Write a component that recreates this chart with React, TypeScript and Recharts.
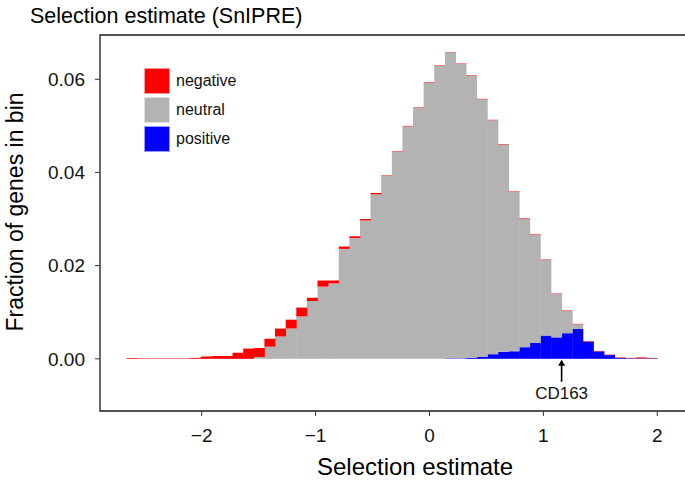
import React from 'react';
import {
  ComposedChart,
  Bar,
  XAxis,
  YAxis,
  Label,
  ReferenceArea,
  ReferenceDot,
} from 'recharts';

// histogram bins (mid points, width ~0.093)
const BIN_MIDS = [
  -2.614, -2.521, -2.428, -2.335, -2.242, -2.148, -2.055, -1.962, -1.869, -1.776,
  -1.683, -1.589, -1.496, -1.403, -1.31, -1.216, -1.123, -1.03, -0.937, -0.844,
  -0.75, -0.657, -0.564, -0.471, -0.378, -0.284, -0.191, -0.098, -0.005, 0.088,
  0.182, 0.275, 0.368, 0.461, 0.554, 0.648, 0.741, 0.834, 0.927, 1.02,
  1.114, 1.207, 1.3, 1.393, 1.486, 1.579, 1.673, 1.766, 1.859, 1.952,
];

const NEGATIVE = [
  0.0002, 0.0001, 0.0001, 0.0001, 0.0001, 0.0001, 0.0002, 0.0005, 0.0006, 0.0006,
  0.0013, 0.0022, 0.0019, 0.0017, 0.0017, 0.0019, 0.0019, 0.0007, 0.0013, 0.0006,
  0.0005, 0.0004, 0.0003, 0.0003, 0.0001, 0.0001, 0.0001, 0.0001, 0.0001, 0.0001,
  0.0001, 0.0001, 0.0001, 0.0001, 0.0001, 0.0001, 0.0001, 0.0001, 0.0001, 0.0001,
  0.0001, 0.0001, 0.0001, 0.0001, 0.0001, 0.0001, 0.0001, 0.0001, 0.0002, 0.0001,
];

const NEUTRAL = [
  0, 0, 0, 0, 0, 0, 0, 0, 0, 0,
  0, 0, 0.0004, 0.0026, 0.0048, 0.0065, 0.0091, 0.0124, 0.0155, 0.0162,
  0.0236, 0.0259, 0.0297, 0.0353, 0.0393, 0.0445, 0.0499, 0.0539, 0.0593, 0.0629,
  0.0656, 0.0632, 0.0606, 0.0553, 0.0502, 0.0445, 0.0342, 0.0276, 0.0233, 0.0162,
  0.0093, 0.0048, 0.001, 0, 0, 0, 0, 0, 0, 0,
];

const POSITIVE = [
  0, 0, 0, 0, 0, 0, 0, 0, 0, 0,
  0, 0, 0, 0, 0, 0, 0, 0, 0, 0,
  0, 0, 0, 0, 0, 0, 0, 0, 0, 0,
  0.0001, 0.0001, 0.0002, 0.0004, 0.001, 0.0015, 0.0016, 0.0025, 0.0034, 0.005,
  0.0046, 0.0055, 0.0064, 0.0037, 0.0016, 0.0008, 0.0002, 0.0001, 0.0001, 0.0001,
];

const X_TICKS = [-2, -1, 0, 1, 2];
const Y_TICKS = [0, 0.02, 0.04, 0.06];
// panel runs past the right edge of the picture (it is cropped there)
const X_DOMAIN = [-2.893, 2.375];
const Y_DOMAIN = [-0.0112, 0.0695];

const GROUPS = [
  { key: 'negative', color: '#FF0000' },
  { key: 'neutral', color: '#B3B3B3' },
  { key: 'positive', color: '#0000FF' },
];

const HIGHLIGHT = { gene: 'CD163', x: 1.16 };

const FONT = '"Liberation Sans", Arial, Helvetica, sans-serif';

const data = BIN_MIDS.map((x, i) => ({
  x,
  negative: NEGATIVE[i],
  neutral: NEUTRAL[i],
  positive: POSITIVE[i],
}));

const colorOf = (key: string) => GROUPS.find((g) => g.key === key)!.color;

function LegendBox() {
  return (
    <div style={{ fontFamily: FONT, fontSize: 16, color: '#111' }}>
      {GROUPS.map((g) => (
        <div key={g.key} style={{ display: 'flex', alignItems: 'center', height: 29 }}>
          <span
            style={{
              display: 'inline-block',
              width: 26,
              height: 26,
              background: g.color,
              boxSizing: 'border-box',
              border: '1px solid rgba(255,255,255,0.6)',
            }}
          />
          <span style={{ marginLeft: 6 }}>{g.key}</span>
        </div>
      ))}
    </div>
  );
}

// arrow + gene name below the baseline
function GeneMarker(props: any) {
  const { cx, cy } = props;
  if (cx == null || cy == null) return null;
  return (
    <g>
      <line x1={cx} y1={cy + 23} x2={cx} y2={cy + 5} stroke="#000" strokeWidth={1.6} />
      <path d={`M${cx - 3.5},${cy + 7} L${cx},${cy + 1} L${cx + 3.5},${cy + 7} Z`} fill="#000" />
      <text
        x={cx}
        y={cy + 40}
        textAnchor="middle"
        fontFamily={FONT}
        fontSize={17}
        fill="#111"
      >
        {HIGHLIGHT.gene}
      </text>
    </g>
  );
}

export default function App() {
  return (
    <div
      style={{
        position: 'absolute',
        left: 0,
        top: 0,
        width: 685,
        height: 485,
        overflow: 'hidden',
        background: '#fff',
        fontFamily: FONT,
      }}
    >
      <ComposedChart
        width={700}
        height={485}
        data={data}
        margin={{ top: 35, right: 0, left: 0, bottom: 0 }}
        barCategoryGap={0}
        barGap={0}
      >
        <XAxis
          dataKey="x"
          type="number"
          domain={X_DOMAIN}
          ticks={X_TICKS}
          allowDataOverflow
          tickFormatter={(v) => (v < 0 ? `\u2212${Math.abs(v)}` : `${v}`)}
          tick={{ fontSize: 19, fill: '#111', fontFamily: FONT }}
          tickSize={5}
          tickMargin={13}
          tickLine={{ stroke: '#333' }}
          axisLine={false}
          height={74}
        >
          <Label
            content={() => (
              <text
                x={415}
                y={475}
                textAnchor="middle"
                fontFamily={FONT}
                fontSize={24}
                fill="#000"
              >
                Selection estimate
              </text>
            )}
          />
        </XAxis>
        <YAxis
          type="number"
          domain={Y_DOMAIN}
          ticks={Y_TICKS}
          allowDataOverflow
          tickFormatter={(v) => v.toFixed(2)}
          tick={{ fontSize: 19, fill: '#111', fontFamily: FONT }}
          tickSize={5}
          tickMargin={10}
          tickLine={{ stroke: '#333' }}
          axisLine={false}
          width={100}
        >
          <Label
            content={() => (
              <text
                x={23}
                y={212}
                transform="rotate(-90 23 212)"
                textAnchor="middle"
                fontFamily={FONT}
                fontSize={23}
                fill="#000"
              >
                Fraction of genes in bin
              </text>
            )}
          />
        </YAxis>
        <Bar dataKey="positive" stackId="h" fill={colorOf('positive')} isAnimationActive={false} />
        <Bar dataKey="neutral" stackId="h" fill={colorOf('neutral')} isAnimationActive={false} />
        <Bar dataKey="negative" stackId="h" fill={colorOf('negative')} isAnimationActive={false} />
        <ReferenceDot
          x={HIGHLIGHT.x}
          y={0}
          ifOverflow="visible"
          shape={(p: any) => <GeneMarker {...p} />}
        />
        <ReferenceArea
          x1={X_DOMAIN[0]}
          x2={X_DOMAIN[1]}
          y1={Y_DOMAIN[0]}
          y2={Y_DOMAIN[1]}
          fill="none"
          stroke="#1a1a1a"
          strokeWidth={1.3}
          ifOverflow="visible"
        />
      </ComposedChart>
      <div
        style={{
          position: 'absolute',
          left: 30,
          top: 4,
          fontSize: 21.5,
          color: '#000',
          whiteSpace: 'nowrap',
        }}
      >
        Selection estimate (SnIPRE)
      </div>
      <div style={{ position: 'absolute', left: 144, top: 66 }}>
        <LegendBox />
      </div>
    </div>
  );
}
